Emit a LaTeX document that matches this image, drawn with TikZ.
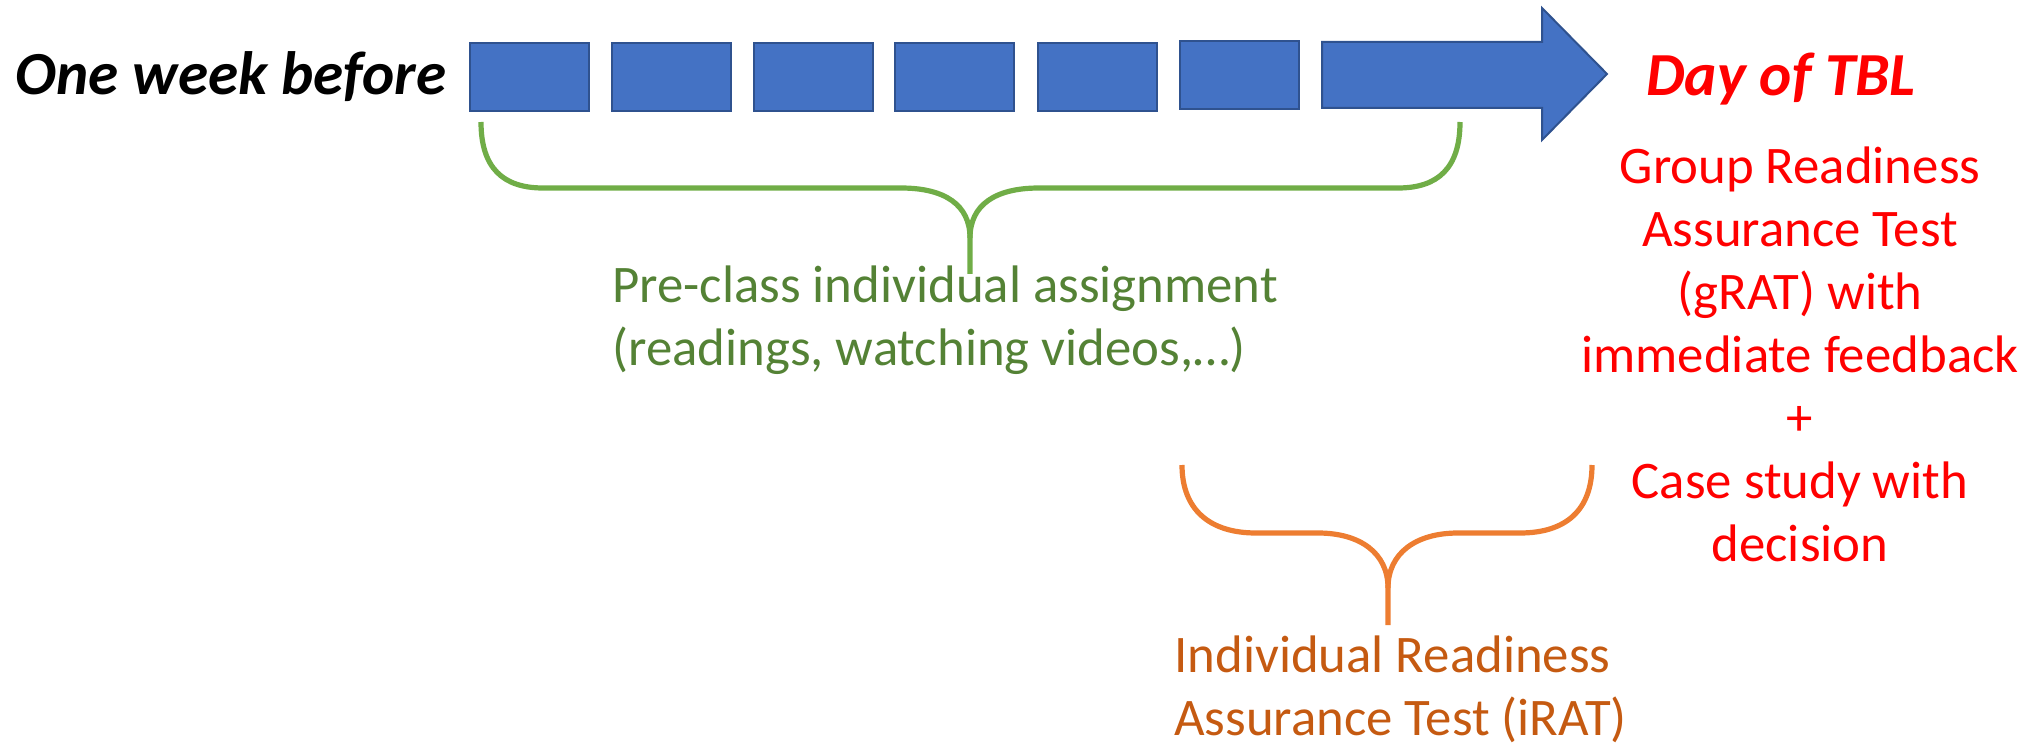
\documentclass[tikz,border=0pt]{standalone}
\usepackage{fontspec}
\setmainfont{Carlito}
\definecolor{blockblue}{HTML}{4472C4}
\definecolor{blockedge}{HTML}{2F528F}
\definecolor{bracegreen}{HTML}{70AD47}
\definecolor{textgreen}{HTML}{548235}
\definecolor{braceorange}{HTML}{ED7D31}
\definecolor{textorange}{HTML}{C55A11}
\definecolor{dayred}{HTML}{FF0000}
\begin{document}
\begin{tikzpicture}[x=0.5pt,y=-0.5pt,
  block/.style={fill=blockblue,draw=blockedge,line width=1pt,inner sep=0pt,
    minimum width=59.5pt,minimum height=34pt},
  bracepath/.style={line width=2.6pt,line cap=butt,line join=round},
  bodytext/.style={inner sep=0pt,font=\fontsize{26.4}{31.5}\selectfont},
  titletext/.style={inner sep=0pt,font=\fontsize{30.6}{36}\selectfont\bfseries\itshape}]
\useasboundingbox (0,0) rectangle (2028,743);

% timeline: six day blocks and the final arrow
\foreach \cx/\cy [count=\i] in {529.5/77, 671.5/77, 813/77, 954.5/77, 1097/77, 1239.5/75}
  \node[block] (day\i) at (\cx,\cy) {};
\draw[fill=blockblue,draw=blockedge,line width=1pt]
  (1322,42) -- (1542,42) -- (1542,8) -- (1607,74) -- (1542,140)
  -- (1542,108) -- (1322,108) -- cycle;

% end labels
\node[titletext,anchor=base west] (start) at (15,95) {One week before};
\node[titletext,text=dayred,anchor=base west] (tbl) at (1646,96) {Day of TBL};

% brace under the pre-class period
\draw[bracepath,bracegreen]
  (481,122) .. controls (481,168) and (503,188) .. (543,188)
  -- (901,188) .. controls (945,188) and (970,205) .. (970,238) -- (970,274);
\draw[bracepath,bracegreen]
  (970,238) .. controls (970,205) and (995,188) .. (1039,188)
  -- (1398,188) .. controls (1438,188) and (1460,168) .. (1460,122);
\node[bodytext,text=textgreen,align=left,anchor=base west] (pre) at (612,365)
  {Pre-class individual assignment\\(readings, watching videos,…)};

% brace under the last day
\draw[bracepath,braceorange]
  (1182,465) .. controls (1182,510) and (1210,533) .. (1256,533)
  -- (1318,533) .. controls (1360,533) and (1388,553) .. (1388,588) -- (1388,625);
\draw[bracepath,braceorange]
  (1388,588) .. controls (1388,553) and (1416,533) .. (1458,533)
  -- (1520,533) .. controls (1566,533) and (1592,510) .. (1592,465);
\node[bodytext,text=textorange,align=left,anchor=base west] (irat) at (1174,735)
  {Individual Readiness\\Assurance Test (iRAT)};

% activities on the day itself
\node[bodytext,text=dayred,align=center,anchor=base] (grat) at (1800,561)
  {Group Readiness\\Assurance Test\\(gRAT) with\\immediate feedback\\+\\Case study with\\decision};
\end{tikzpicture}
\end{document}
